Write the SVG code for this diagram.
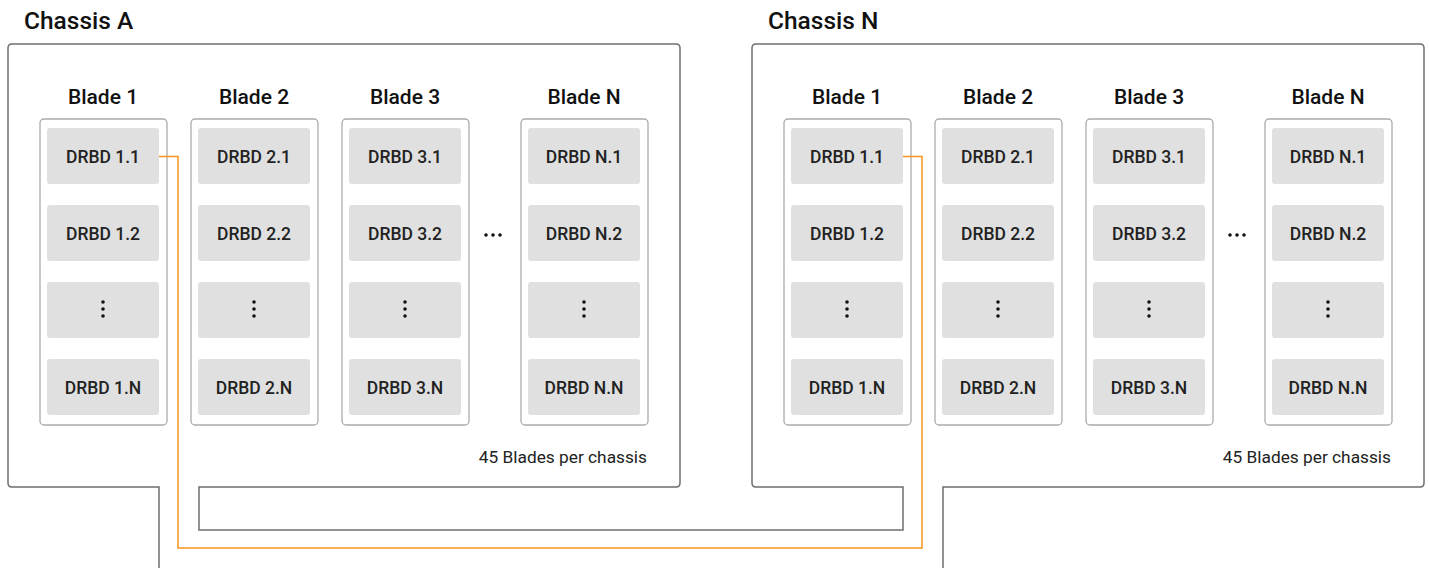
<svg xmlns="http://www.w3.org/2000/svg" width="1429" height="568" viewBox="0 0 1429 568">
<defs>
<style>
.title{font-family:Roboto,"Liberation Sans",sans-serif;font-weight:500;font-size:24.5px;fill:#111}
.blade-t{font-family:Roboto,"Liberation Sans",sans-serif;font-weight:500;font-size:21px;fill:#111;text-anchor:middle}
.drbd-t{font-family:Roboto,"Liberation Sans",sans-serif;font-weight:500;font-size:17.5px;fill:#222;text-anchor:middle}
.note{font-family:Roboto,"Liberation Sans",sans-serif;font-weight:400;font-size:17.3px;fill:#222;text-anchor:end}
.blade{fill:#fff;stroke:#ababab;stroke-width:1.3}
.drbd{fill:#e0e0e0}
.dot{fill:#111}
.frame{fill:none;stroke:#6e6e6e;stroke-width:1.5}
.link{fill:none;stroke:#f7941d;stroke-width:1.5}
</style>
<g id="bladeproto">
<rect class="blade" x="0" y="0" width="127" height="306" rx="4"/>
<rect class="drbd" x="7" y="9" width="112" height="56" rx="3"/>
<rect class="drbd" x="7" y="86" width="112" height="56" rx="3"/>
<rect class="drbd" x="7" y="163" width="112" height="56" rx="3"/>
<rect class="drbd" x="7" y="240" width="112" height="56" rx="3"/>
<circle class="dot" cx="63" cy="183" r="1.8"/>
<circle class="dot" cx="63" cy="190" r="1.8"/>
<circle class="dot" cx="63" cy="197" r="1.8"/>
</g>
</defs>
<rect x="0" y="0" width="1429" height="568" fill="#fff"/>
<g id="frame">
<path class="frame" d="M159,568 V487 H12 Q8,487 8,483 V48 Q8,44 12,44 H676 Q680,44 680,48 V483 Q680,487 676,487 H199 V530 H903 V487 H756 Q752,487 752,483 V48 Q752,44 756,44 H1420 Q1424,44 1424,48 V483 Q1424,487 1420,487 H943 V568"/>
</g>
<g id="chassis-a">
<text class="title" x="24" y="29">Chassis A</text>
<g id="a-blade1"><use href="#bladeproto" x="40" y="119"/><text class="blade-t" x="103" y="104">Blade 1</text>
<text class="drbd-t" x="103" y="163">DRBD 1.1</text><text class="drbd-t" x="103" y="240">DRBD 1.2</text><text class="drbd-t" x="103" y="394">DRBD 1.N</text></g>
<g id="a-blade2"><use href="#bladeproto" x="191" y="119"/><text class="blade-t" x="254" y="104">Blade 2</text>
<text class="drbd-t" x="254" y="163">DRBD 2.1</text><text class="drbd-t" x="254" y="240">DRBD 2.2</text><text class="drbd-t" x="254" y="394">DRBD 2.N</text></g>
<g id="a-blade3"><use href="#bladeproto" x="342" y="119"/><text class="blade-t" x="405" y="104">Blade 3</text>
<text class="drbd-t" x="405" y="163">DRBD 3.1</text><text class="drbd-t" x="405" y="240">DRBD 3.2</text><text class="drbd-t" x="405" y="394">DRBD 3.N</text></g>
<g id="a-ellipsis"><circle class="dot" cx="486" cy="235" r="1.8"/><circle class="dot" cx="493" cy="235" r="1.8"/><circle class="dot" cx="500" cy="235" r="1.8"/></g>
<g id="a-bladeN"><use href="#bladeproto" x="521" y="119"/><text class="blade-t" x="584" y="104">Blade N</text>
<text class="drbd-t" x="584" y="163">DRBD N.1</text><text class="drbd-t" x="584" y="240">DRBD N.2</text><text class="drbd-t" x="584" y="394">DRBD N.N</text></g>
<text class="note" x="647" y="463">45 Blades per chassis</text>
</g>
<g id="chassis-n">
<text class="title" x="768" y="29">Chassis N</text>
<g id="n-blade1"><use href="#bladeproto" x="784" y="119"/><text class="blade-t" x="847" y="104">Blade 1</text>
<text class="drbd-t" x="847" y="163">DRBD 1.1</text><text class="drbd-t" x="847" y="240">DRBD 1.2</text><text class="drbd-t" x="847" y="394">DRBD 1.N</text></g>
<g id="n-blade2"><use href="#bladeproto" x="935" y="119"/><text class="blade-t" x="998" y="104">Blade 2</text>
<text class="drbd-t" x="998" y="163">DRBD 2.1</text><text class="drbd-t" x="998" y="240">DRBD 2.2</text><text class="drbd-t" x="998" y="394">DRBD 2.N</text></g>
<g id="n-blade3"><use href="#bladeproto" x="1086" y="119"/><text class="blade-t" x="1149" y="104">Blade 3</text>
<text class="drbd-t" x="1149" y="163">DRBD 3.1</text><text class="drbd-t" x="1149" y="240">DRBD 3.2</text><text class="drbd-t" x="1149" y="394">DRBD 3.N</text></g>
<g id="n-ellipsis"><circle class="dot" cx="1230" cy="235" r="1.8"/><circle class="dot" cx="1237" cy="235" r="1.8"/><circle class="dot" cx="1244" cy="235" r="1.8"/></g>
<g id="n-bladeN"><use href="#bladeproto" x="1265" y="119"/><text class="blade-t" x="1328" y="104">Blade N</text>
<text class="drbd-t" x="1328" y="163">DRBD N.1</text><text class="drbd-t" x="1328" y="240">DRBD N.2</text><text class="drbd-t" x="1328" y="394">DRBD N.N</text></g>
<text class="note" x="1391" y="463">45 Blades per chassis</text>
</g>
<g id="connectors">
<path class="link" d="M159,156.5 H178 V548 H922 V156.5 H903"/>
</g>
</svg>
